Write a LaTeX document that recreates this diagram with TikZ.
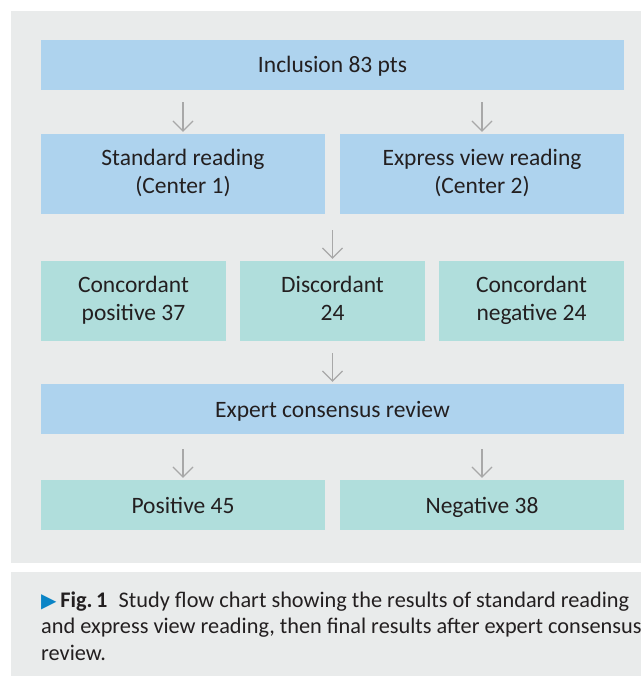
\documentclass[tikz,border=0pt]{standalone}
\usepackage{fontspec}
\setmainfont{Carlito}
\newfontfamily\symfont{DejaVu Sans}
\usepackage{xcolor}
\usetikzlibrary{arrows.meta}
\usetikzlibrary{positioning}

\definecolor{panelgray}{HTML}{E9EBEB}
\definecolor{boxblue}{HTML}{AED3EE}
\definecolor{boxteal}{HTML}{B0DEDC}
\definecolor{arrowgray}{HTML}{A8A8A8}
\definecolor{textdark}{HTML}{231F20}
\definecolor{capblue}{HTML}{0A84C6}

\begin{document}
\begin{tikzpicture}[x=1pt, y=-1pt,
    box/.style={inner sep=0pt, align=center, text=textdark,
      font=\fontsize{23.5}{28}\selectfont,
      execute at begin node={\rule{0pt}{22pt}},
      execute at end node={\rule[-6pt]{0pt}{6pt}}},
    bluebox/.style={box, fill=boxblue},
    tealbox/.style={box, fill=boxteal},
    flow/.style={draw=arrowgray, line width=1.2pt,
      -{Straight Barb[length=10pt, width=20pt]}, shorten >=2pt}]
  \useasboundingbox (0,0) rectangle (641,676);
  \fill[panelgray] (11,11) rectangle (641,563);
  \fill[panelgray] (11,572) rectangle (641,676);

  % boxes
  \node[bluebox, minimum width=583pt, minimum height=50pt] (incl) at (332.5,65) {Inclusion 83 pts};
  \node[bluebox, minimum width=284pt, minimum height=80pt] (std) at (183,174) {Standard reading\\(Center 1)};
  \node[bluebox, minimum width=284pt, minimum height=80pt] (expr) at (482,174) {Express view reading\\(Center 2)};
  \node[tealbox, minimum width=185pt, minimum height=80pt] (cpos) at (133.5,301) {Concordant\\positive 37};
  \node[tealbox, minimum width=185pt, minimum height=80pt] (disc) at (332.5,301) {Discordant\\24};
  \node[tealbox, minimum width=185pt, minimum height=80pt] (cneg) at (531.5,301) {Concordant\\negative 24};
  \node[bluebox, minimum width=583pt, minimum height=50pt] (cons) at (332.5,409) {Expert consensus review};
  \node[tealbox, minimum width=284pt, minimum height=50pt] (pos) at (183,505) {Positive 45};
  \node[tealbox, minimum width=284pt, minimum height=50pt] (neg) at (482,505) {Negative 38};

  % arrows
  \foreach \a/\b in {incl/std, incl/expr}
    \draw[flow, shorten <=12pt] (\b.north |- \a.south) -- (\b.north);
  \draw[flow, shorten <=16pt] (disc.north |- std.south) -- (disc.north);
  \draw[flow, shorten <=12pt] (disc.south) -- (cons.north);
  \foreach \a/\b in {cons/pos, cons/neg}
    \draw[flow, shorten <=15pt] (\b.north |- \a.south) -- (\b.north);

  % caption (base = last line)
  \node[anchor=base west, align=left, inner sep=0pt, text=textdark,
    font=\fontsize{22.3}{26.5}\selectfont] (cap) at (41,660)
    {{\symfont\fontsize{20}{20}\selectfont\color{capblue}▶}\,\textbf{Fig.\,1}\hspace{0.5em}Study flow chart showing the results of standard reading\\
     and express view reading, then final results after expert consensus\\
     review.};
\end{tikzpicture}
\end{document}
